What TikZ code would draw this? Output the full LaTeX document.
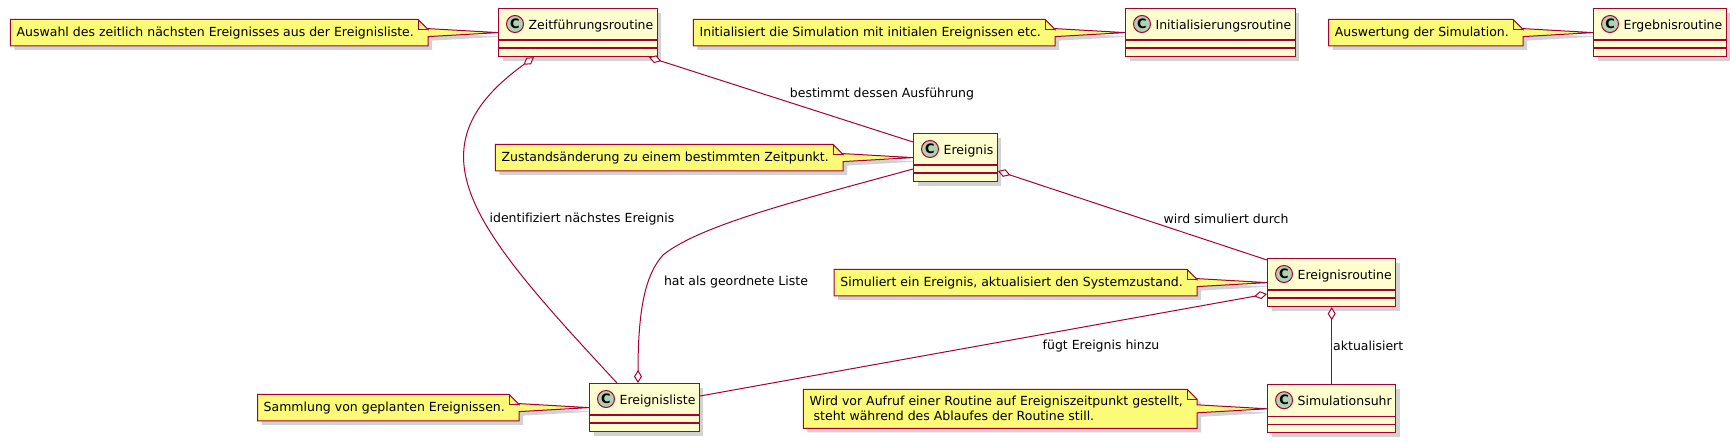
\documentclass[tikz,border=0pt]{standalone}
\usepackage{fontspec}
\setmainfont{DejaVu Sans}[Ligatures=NoCommon]
\usetikzlibrary{arrows.meta,positioning,shadows,backgrounds}
\definecolor{umlred}{HTML}{A80036}
\definecolor{classfill}{HTML}{FEFECE}
\definecolor{notefill}{HTML}{FBFB77}
\definecolor{badgefill}{HTML}{ADD1B2}
\newcommand{\umlfont}{\fontsize{12.5pt}{15pt}\selectfont}
\tikzstyle{umlshadow}=[drop shadow={shadow xshift=4pt,shadow yshift=-4pt,fill=black!35,opacity=0.5}]
\tikzstyle{umlclass}=[draw=umlred,line width=1.2pt,fill=classfill,anchor=north west,inner xsep=4pt,inner ysep=0pt,text height=20.5pt,text depth=27.5pt,font=\umlfont,umlshadow]
\tikzstyle{compline}=[draw=umlred,line width=1.2pt]
\tikzstyle{badge}=[circle,draw=umlred,line width=1pt,fill=badgefill,minimum size=17pt,inner sep=0pt,font=\bfseries\fontsize{13pt}{13pt}\selectfont]
\tikzstyle{note}=[inner xsep=6pt,inner ysep=7pt,align=left,font=\umlfont]
\tikzstyle{noteshape}=[draw=umlred,line width=1pt,fill=notefill,umlshadow]
\tikzstyle{lbl}=[inner sep=0pt,font=\umlfont]
\tikzstyle{assoc}=[draw=umlred,line width=1pt]
\tikzstyle{agg}=[assoc,{Diamond[fill=white,length=13pt,width=8pt]}-]
\newcommand{\noteoutline}[2]{%
\path[noteshape] (#1.north west) -- ([xshift=-10pt]#1.north east) -- ([yshift=-10pt]#1.north east)
  -- ([yshift=4pt]#1.east) -- (#2.west) -- ([yshift=-4pt]#1.east)
  -- (#1.south east) -- (#1.south west) -- cycle;
\draw[draw=umlred,line width=1pt] ([xshift=-10pt]#1.north east) -- ([xshift=-10pt,yshift=-10pt]#1.north east) -- ([yshift=-10pt]#1.north east);}

\begin{document}
\begin{tikzpicture}[x=1pt,y=-1pt]
\useasboundingbox (0,0) rectangle (1736,442);

\node [umlclass] (zeit) at (498,8) {\hspace*{26pt}Zeitführungsroutine};
\node [umlclass] (init) at (1125,8) {\hspace*{26pt}Initialisierungsroutine};
\node [umlclass] (erg) at (1593,8) {\hspace*{26pt}Ergebnisroutine};
\node [umlclass] (ev) at (913,133) {\hspace*{26pt}Ereignis};
\node [umlclass] (evr) at (1267,258) {\hspace*{26pt}Ereignisroutine};
\node [umlclass] (evl) at (589,383) {\hspace*{26pt}Ereignisliste};
\node [umlclass,below=77pt of evr] (uhr) {\hspace*{26pt}Simulationsuhr};

\foreach \c in {zeit,init,erg,ev,evr,evl,uhr}{
  \draw[compline] ([yshift=-32pt]\c.north west) -- ([yshift=-32pt]\c.north east);
  \draw[compline] ([yshift=-40pt]\c.north west) -- ([yshift=-40pt]\c.north east);
  \node[badge] (\c-c) at ([xshift=17pt,yshift=-16pt]\c.north west) {C};
}

\node [note,left=70pt of zeit] (zeitn) {Auswahl des zeitlich nächsten Ereignisses aus der Ereignisliste.\hspace*{8pt}};
\node [note,left=70pt of init] (initn) {Initialisiert die Simulation mit initialen Ereignissen etc.\hspace*{8pt}};
\node [note,left=70pt of erg] (ergn) {Auswertung der Simulation.\hspace*{8pt}};
\node [note,left=70pt of ev] (evn) {Zustandsänderung zu einem bestimmten Zeitpunkt.\hspace*{8pt}};
\node [note,left=70pt of evr] (evrn) {Simuliert ein Ereignis, aktualisiert den Systemzustand.\hspace*{8pt}};
\node [note,left=70pt of evl] (evln) {Sammlung von geplanten Ereignissen.\hspace*{8pt}};
\node [note,left=70pt of uhr] (uhrn) {Wird vor Aufruf einer Routine auf Ereigniszeitpunkt gestellt,\hspace*{8pt}\\\hspace*{4pt}steht während des Ablaufes der Routine still.};

\begin{scope}[on background layer]
\foreach \n/\c in {zeitn/zeit,initn/init,ergn/erg,evn/ev,evrn/evr,evln/evl,uhrn/uhr}
  \noteoutline{\n}{\c};
\end{scope}

\coordinate (knee) at (663,255);
\draw[agg] ([xshift=-9pt]zeit.south east) -- ([yshift=-9pt]ev.north west);
\draw[agg] ([xshift=36pt]zeit.south west) .. controls (405,150) and (475,230) .. ([xshift=28pt]evl.north west);
\draw[agg] ([xshift=49pt]evl.north west) .. controls (638,300) and (648,272) .. (knee)
  .. controls (700,225) and (800,200) .. ([yshift=-36pt]ev.north west);
\draw[agg] ([yshift=-38pt]ev.north east) -- ([yshift=-2pt]evr.north west);
\draw[agg] ([yshift=-36pt]evr.north west) -- ([yshift=-13pt]evl.north east);
\draw[agg] (evr.south) -- (uhr.north);

\node [lbl] (lbest) at (882,94) {bestimmt dessen Ausführung};
\node [lbl] (lident) at (582,219) {identifiziert nächstes Ereignis};
\node [lbl] (lhat) at (736,282) {hat als geordnete Liste};
\node [lbl] (lwird) at (1226,219) {wird simuliert durch};
\node [lbl] (lfuegt) at (1101,346) {fügt Ereignis hinzu};
\node [lbl,anchor=west] (lakt) at (1333,346) {aktualisiert};
\end{tikzpicture}
\end{document}
